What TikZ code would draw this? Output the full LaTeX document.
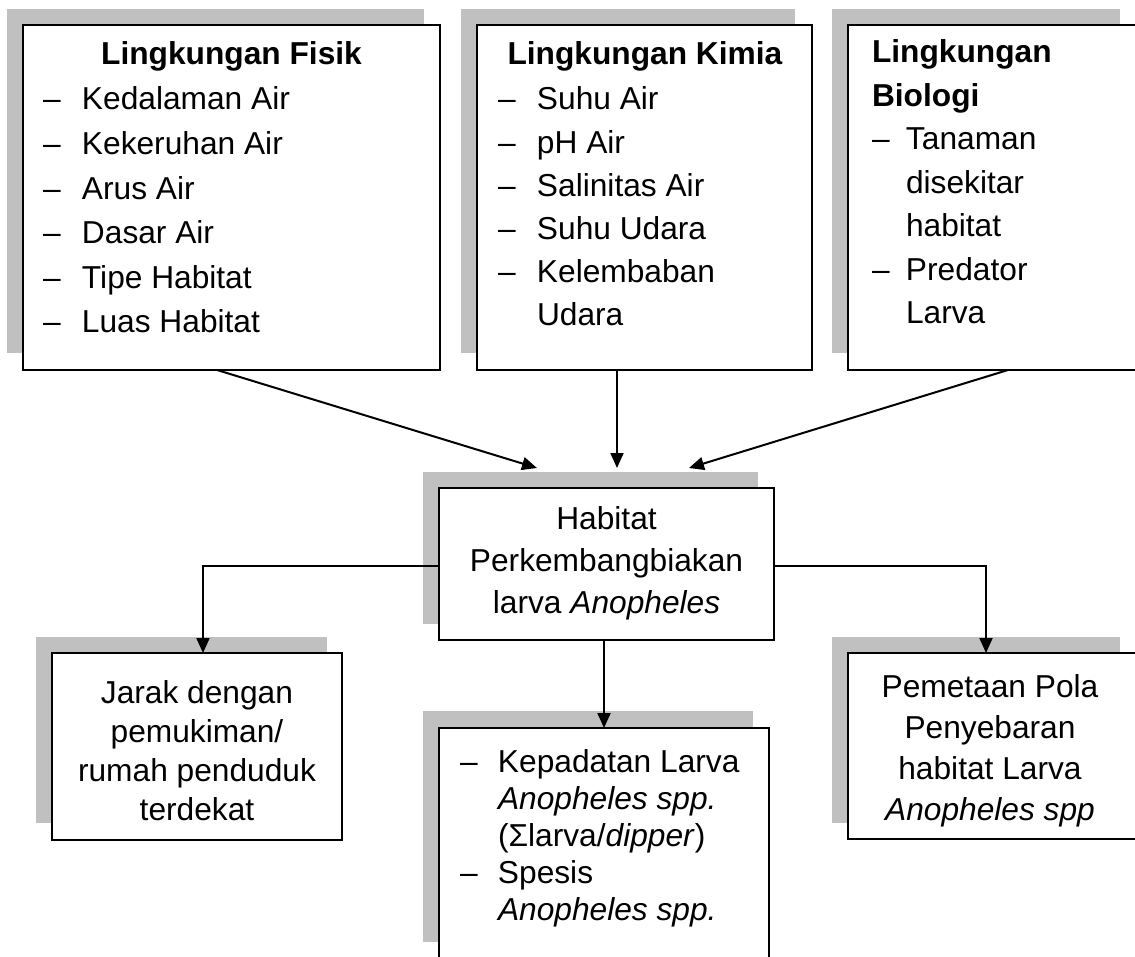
\documentclass[tikz,border=0pt]{standalone}
\usepackage{fontspec}
\setmainfont{Liberation Sans}
\usetikzlibrary{arrows.meta,calc,fit}
\definecolor{shade}{RGB}{192,192,192}
% list dash with a fixed indent before the item text
\newcommand\dsh[1][19.5pt]{\makebox[#1][l]{\textendash}}
\begin{document}
\begin{tikzpicture}[x=0.5pt,y=-0.5pt,
  card/.style={draw=black,line width=1pt,fill=white,rectangle,inner sep=0pt,outer sep=0pt},
  cardshadow/.style={fill=shade,draw=none,rectangle,inner sep=0pt,outer sep=0pt},
  lead/.style={inner sep=0pt,outer sep=0pt,font=\fontsize{15.85}{#1}\selectfont},
  arr/.style={line width=1pt,-{Triangle[length=7.5pt,width=6.5pt]}},
  link/.style={line width=1pt}]
\useasboundingbox (0,0) rectangle (1135,957);
\clip (0,0) rectangle (1135,957);

% shadows
\node[cardshadow,fit={(7,9) (424,353)}]    (fisikS) {};
\node[cardshadow,fit={(461,9) (795,353)}]  (kimiaS) {};
\node[cardshadow,fit={(832,9) (1120,353)}] (bioS) {};
\node[cardshadow,fit={(423,472) (758,624)}] (habS) {};
\node[cardshadow,fit={(36,637) (327,823)}]  (jarakS) {};
\node[cardshadow,fit={(832,637) (1120,823)}] (pemS) {};
\node[cardshadow,fit={(423,711) (753,942)}] (kepS) {};

% boxes
\node[card,fit={(23,25) (440,370)}]    (fisik) {};
\node[card,fit={(477,25) (812,370)}]   (kimia) {};
\node[card,fit={(848,25) (1140,370)}]  (bio) {};
\node[card,fit={(439,488) (774,640)}]  (hab) {};
\node[card,fit={(52,653) (342,840)}]   (jarak) {};
\node[card,fit={(848,653) (1140,839)}] (pem) {};
\node[card,fit={(439,728) (769,962)}]  (kep) {};

% connectors
\draw[arr] ($(fisik.south)+(-14.5,0)$) -- ($(hab.north)+(-69.5,-20)$);
\draw[arr] ($(kimia.south)+(-27.5,0)$) -- ($(hab.north)+(10.5,-20)$);
\draw[arr] ($(bio.south)+(14,0)$) -- ($(hab.north)+(82.5,-20)$);
\draw[arr] ($(hab.west)+(0,2)$) -| ($(jarak.north)+(6,0)$);
\draw[arr] ($(hab.east)+(0,2)$) -| ($(pem.north)+(-8,0)$);
\draw[arr] (kep.north |- hab.south) -- (kep.north);

% texts
\node[lead=22.3pt,anchor=base] (fisikH) at (231.5,65) {\textbf{Lingkungan Fisik}};
\node[lead=22.3pt,anchor=base west] (fisikL) at (43,110) {\begin{tabular}[t]{@{}l@{}l@{}}
\dsh & Kedalaman Air\\
\dsh & Kekeruhan Air\\
\dsh & Arus Air\\
\dsh & Dasar Air\\
\dsh & Tipe Habitat\\
\dsh & Luas Habitat
\end{tabular}};

\node[lead=21.6pt,anchor=base] (kimiaH) at (645,65) {\textbf{Lingkungan Kimia}};
\node[lead=21.6pt,anchor=base west] (kimiaL) at (498,110) {\begin{tabular}[t]{@{}l@{}l@{}}
\dsh & Suhu Air\\
\dsh & pH Air\\
\dsh & Salinitas Air\\
\dsh & Suhu Udara\\
\dsh & Kelembaban\\
     & Udara
\end{tabular}};

\node[lead=21.75pt,anchor=base west] (bioL) at (872,63) {\begin{tabular}[t]{@{}l@{}l@{}}
\multicolumn{2}{@{}l@{}}{\textbf{Lingkungan}}\\
\multicolumn{2}{@{}l@{}}{\textbf{Biologi}}\\
\dsh[17pt] & Tanaman\\
           & disekitar\\
           & habitat\\
\dsh[17pt] & Predator\\
           & Larva
\end{tabular}};

\node[lead=21pt,anchor=base] (habT) at (606.5,529) {\begin{tabular}[t]{@{}c@{}}
Habitat\\
Perkembangbiakan\\
larva \textit{Anopheles}
\end{tabular}};

\node[lead=19.5pt,anchor=base] (jarakT) at (197,703) {\begin{tabular}[t]{@{}c@{}}
Jarak dengan\\
pemukiman/\\
rumah penduduk\\
terdekat
\end{tabular}};

\node[lead=20.5pt,anchor=base] (pemT) at (990,697) {\begin{tabular}[t]{@{}c@{}}
Pemetaan Pola\\
Penyebaran\\
habitat Larva\\
\textit{Anopheles spp}
\end{tabular}};

\node[lead=18.5pt,anchor=base west] (kepL) at (460,772) {\begin{tabular}[t]{@{}l@{}l@{}}
\dsh[19pt] & Kepadatan Larva\\
           & \textit{Anopheles spp.}\\
           & (Σlarva/\textit{dipper})\\
\dsh[19pt] & Spesis\\
           & \textit{Anopheles spp.}
\end{tabular}};
\end{tikzpicture}
\end{document}
